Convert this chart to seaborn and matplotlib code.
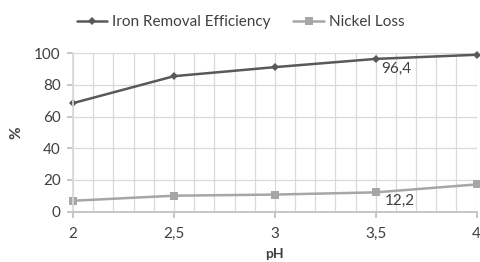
import matplotlib
matplotlib.use("Agg")
import matplotlib.pyplot as plt
import seaborn as sns
import pandas as pd
import numpy as np
from matplotlib.ticker import MultipleLocator, FuncFormatter

ph = [2, 2.5, 3, 3.5, 4]
iron = [68.5, 85.5, 91.2, 96.4, 99.0]
nickel = [6.9, 10.1, 10.8, 12.2, 17.2]
series_names = ["Iron Removal Efficiency", "Nickel Loss"]

sns.set_theme(style="white")
plt.rcParams['font.family'] = ['Lato', 'DejaVu Sans']

df = pd.DataFrame({
    "pH": ph * 2,
    "val": iron + nickel,
    "series": [series_names[0]] * len(ph) + [series_names[1]] * len(ph),
})

fig = plt.figure(figsize=(4.81, 2.62), dpi=100)
ax = fig.add_axes([0.152, 0.192, 0.839, 0.605])

palette = {series_names[0]: "#595959", series_names[1]: "#A6A6A6"}
markers = {series_names[0]: "D", series_names[1]: "s"}
sns.lineplot(data=df, x="pH", y="val", hue="series", style="series",
             palette=palette, markers=markers, dashes=False, ax=ax,
             linewidth=1.8, markersize=6, markeredgewidth=0, legend=True)
for line in ax.get_lines():
    line.set_clip_on(False)
    if line.get_marker() == "D":
        line.set_markersize(4.5)

ax.set_xlim(2, 4)
ax.set_ylim(0, 100)
ax.xaxis.set_major_locator(MultipleLocator(0.5))
ax.xaxis.set_minor_locator(MultipleLocator(0.1))
ax.yaxis.set_major_locator(MultipleLocator(20))
fmt = FuncFormatter(lambda v, p: ("%g" % v).replace(".", ","))
ax.xaxis.set_major_formatter(fmt)
ax.grid(True, which="both", axis="x", color="#D9D9D9", linewidth=0.9)
ax.grid(True, which="major", axis="y", color="#D9D9D9", linewidth=0.9)
ax.set_axisbelow(True)
for s in ["top", "right"]:
    ax.spines[s].set_visible(False)
ax.spines["left"].set_color("#D9D9D9")
ax.spines["bottom"].set_color("#BFBFBF")
ax.tick_params(axis="both", which="major", length=4, color="#BFBFBF",
               labelsize=11, labelcolor="#404040", direction="out", pad=5)
ax.tick_params(axis="x", which="major", bottom=True, pad=7)
ax.tick_params(axis="y", which="major", left=True)
ax.tick_params(axis="x", which="minor", bottom=False)

ax.set_xlabel("pH", fontsize=10, fontweight="bold", color="#404040", labelpad=5)
ax.set_ylabel("%", fontsize=11, fontweight="bold", color="#404040", labelpad=8)

ax.annotate(("%g" % iron[3]).replace(".", ","), (ph[3], iron[3]), xytext=(3.6, -7.5),
            textcoords="offset points", fontsize=11, color="#404040", va="center")
ax.annotate(("%g" % nickel[3]).replace(".", ","), (ph[3], nickel[3]), xytext=(6.5, -6),
            textcoords="offset points", fontsize=11, color="#404040", va="center")

leg = ax.legend(loc="center", bbox_to_anchor=(0.5, 0.915), bbox_transform=fig.transFigure,
                ncol=2, frameon=False, fontsize=11, handlelength=2.0,
                columnspacing=1.5, handletextpad=0.3)
for t in leg.get_texts():
    t.set_color("#404040")

fig.savefig("out.png", dpi=100)
